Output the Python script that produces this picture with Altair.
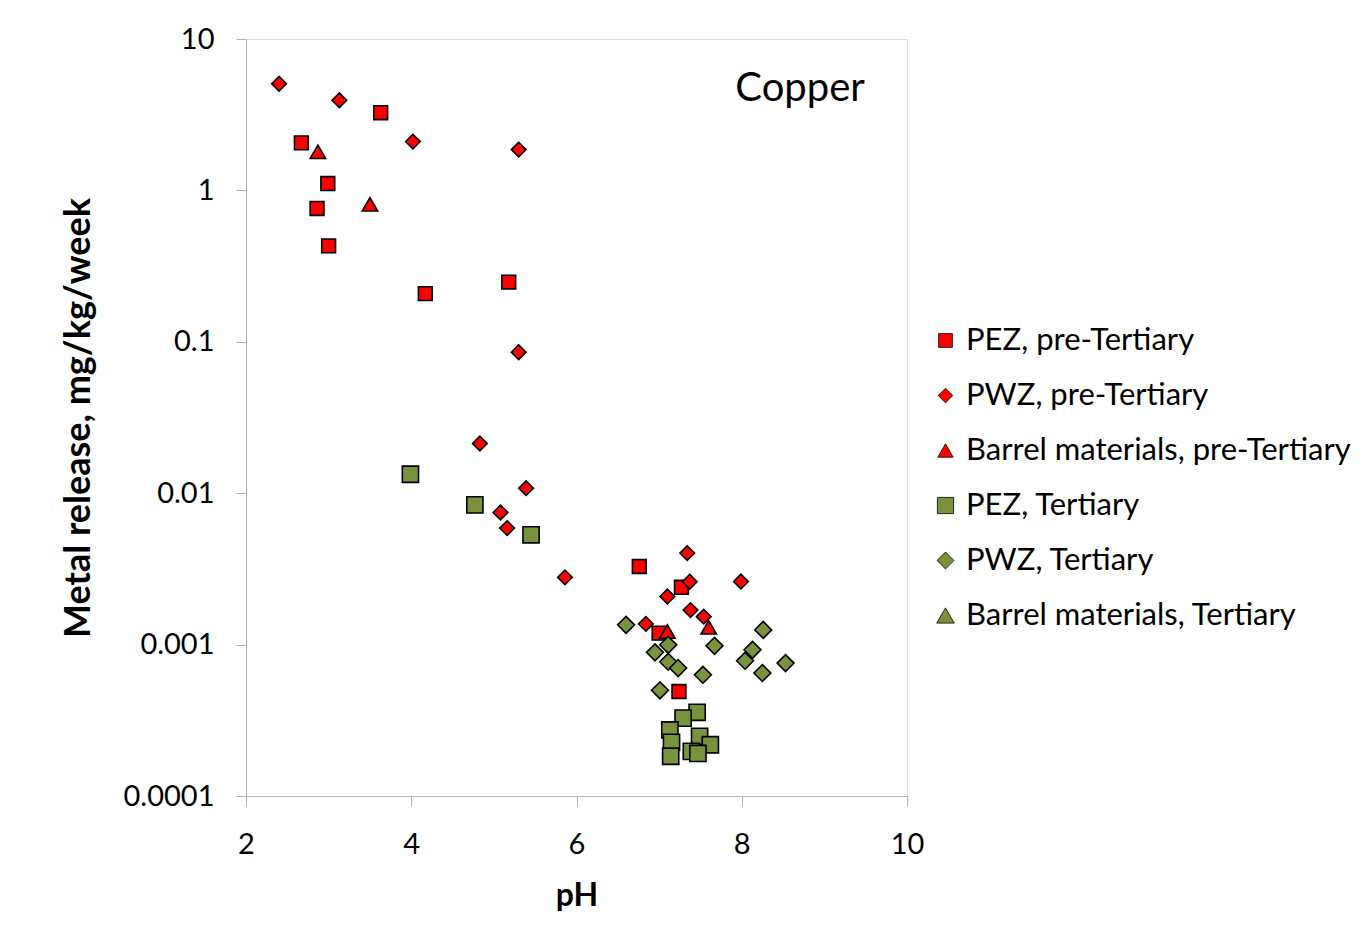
import altair as alt
import pandas as pd

series_names = [
    "PEZ, pre-Tertiary",
    "PWZ, pre-Tertiary",
    "Barrel materials, pre-Tertiary",
    "PEZ, Tertiary",
    "PWZ, Tertiary",
    "Barrel materials, Tertiary",
]
series_colors = ["#ff0000", "#ff0000", "#ff0000", "#77933c", "#77933c", "#77933c"]
series_shapes = ["square", "diamond", "triangle-up", "square", "diamond", "triangle-up"]
series_sizes = [190, 310, 210, 190, 310, 210]

pez_pre_ph = [2.67, 2.99, 2.86, 3.00, 3.63, 4.17, 5.18, 6.76, 7.27, 7.00, 7.24]
pez_pre_val = [2.06, 1.11, 0.76, 0.43, 3.26, 0.208, 0.248, 0.00328, 0.00239, 0.00119, 0.00049]

pwz_pre_ph = [2.40, 3.13, 4.02, 5.30, 5.30, 4.83, 5.39, 5.08, 5.16, 5.86, 7.34, 7.37, 7.10, 7.99, 7.38, 7.54, 6.84]
pwz_pre_val = [5.06, 3.94, 2.10, 1.86, 0.0853, 0.0213, 0.0108, 0.00746, 0.00588, 0.00278,
               0.00402, 0.0026, 0.00208, 0.00261, 0.00169, 0.00153, 0.00137]

barrel_pre_ph = [2.87, 3.50, 7.10, 7.60]
barrel_pre_val = [1.80, 0.81, 0.00122, 0.0013]

pez_t_ph = [3.99, 4.77, 5.45, 7.46, 7.29, 7.13, 7.15, 7.14, 7.49, 7.62, 7.39, 7.47]
pez_t_val = [0.01334, 0.00837, 0.00531, 0.000357, 0.000327, 0.000273, 0.000226, 0.000183,
             0.000248, 0.000218, 0.000197, 0.000191]

pwz_t_ph = [6.60, 7.11, 6.95, 7.11, 7.23, 7.67, 7.53, 8.26, 8.13, 8.04, 8.25, 8.53, 7.01]
pwz_t_val = [0.00135, 0.000997, 0.000889, 0.00077, 0.0007, 0.000982, 0.000632, 0.00125,
             0.000924, 0.000782, 0.000649, 0.000755, 0.000499]

barrel_t_ph = []
barrel_t_val = []

x_ticks = [2, 4, 6, 8, 10]
y_ticks = [0.0001, 0.001, 0.01, 0.1, 1, 10]

annot_text = ["Copper"]
annot_ph = [9.49]
annot_val = [4.7]

rows = []
for name, phs, vals in [
    (series_names[0], pez_pre_ph, pez_pre_val),
    (series_names[1], pwz_pre_ph, pwz_pre_val),
    (series_names[2], barrel_pre_ph, barrel_pre_val),
    (series_names[3], pez_t_ph, pez_t_val),
    (series_names[4], pwz_t_ph, pwz_t_val),
    (series_names[5], barrel_t_ph, barrel_t_val),
]:
    for p, v in zip(phs, vals):
        rows.append({"series": name, "pH": p, "val": v})
df = pd.DataFrame(rows)

FONT = "Lato"

xenc = alt.X(
    "pH:Q",
    scale=alt.Scale(domain=[2, 10], nice=False),
    axis=alt.Axis(values=x_ticks, format="d", title="pH", grid=False, domainColor="#b0b0b0",
                  tickColor="#b0b0b0", tickSize=10, labelFontSize=29, labelFont=FONT,
                  labelColor="black", labelPadding=24, labelFlush=False, titleFont=FONT,
                  titleFontSize=32, titleFontWeight="bold", titleColor="black",
                  titlePadding=21, zindex=1),
)
yenc = alt.Y(
    "val:Q",
    scale=alt.Scale(type="log", domain=[0.0001, 10], nice=False),
    axis=alt.Axis(values=y_ticks, format="~g", title="Metal release, mg/kg/week", grid=False,
                  domainColor="#b0b0b0", tickColor="#b0b0b0", tickSize=10, labelFontSize=29,
                  labelFont=FONT, labelColor="black", labelPadding=22, labelFlush=False,
                  titleFont=FONT, titleFontSize=36, titleFontWeight="bold", titleColor="black",
                  titlePadding=26, zindex=1),
)

legend = alt.Legend(
    title=None, orient="none", legendX=684, legendY=286, labelFont=FONT, labelFontSize=31,
    labelColor="black", labelLimit=0, symbolSize=150, symbolStrokeColor="black",
    symbolStrokeWidth=0.8, rowPadding=23, labelOffset=5,
)

points = alt.Chart(df).mark_point(filled=True, stroke="black", strokeWidth=1.6, opacity=1).encode(
    x=xenc,
    y=yenc,
    color=alt.Color("series:N", scale=alt.Scale(domain=series_names, range=series_colors), legend=legend),
    shape=alt.Shape("series:N", scale=alt.Scale(domain=series_names, range=series_shapes), legend=legend),
    size=alt.Size("series:N", scale=alt.Scale(domain=series_names, range=series_sizes), legend=None),
)

annot_df = pd.DataFrame({"t": annot_text, "pH": annot_ph, "val": annot_val})
annot = alt.Chart(annot_df).mark_text(font=FONT, fontSize=40, align="right", baseline="middle",
                                      color="black").encode(
    x=alt.X("pH:Q"), y=alt.Y("val:Q"), text="t:N"
)

chart = alt.layer(points, annot).properties(
    width=661, height=757,
    padding={"left": 52, "top": 17, "right": 0, "bottom": 5},
).configure_view(stroke="black", strokeWidth=1).configure(background="white")

chart.save("out.html", embed_options={"renderer": "svg", "actions": False})
